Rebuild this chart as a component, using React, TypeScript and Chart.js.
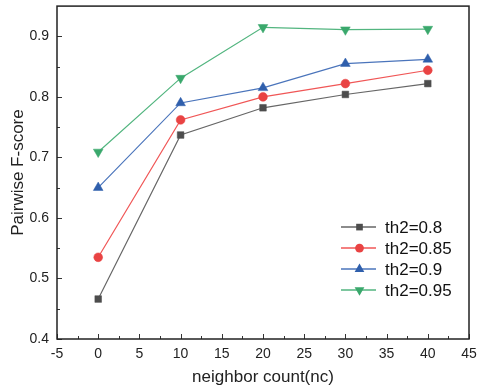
import React, { useEffect, useRef } from "react";
import { Chart, registerables } from "chart.js";

Chart.register(...registerables);

const xValues = [0, 10, 20, 30, 40];
const th08 = [0.466, 0.737, 0.782, 0.804, 0.822];
const th085 = [0.535, 0.762, 0.8, 0.822, 0.844];
const th09 = [0.65, 0.79, 0.815, 0.855, 0.862];
const th095 = [0.709, 0.831, 0.915, 0.911, 0.912];
const seriesNames = ["th2=0.8", "th2=0.85", "th2=0.9", "th2=0.95"];
const xTicks = [-5, 0, 5, 10, 15, 20, 25, 30, 35, 40, 45];
const xMinorTicks = [-2.5, 2.5, 7.5, 12.5, 17.5, 22.5, 27.5, 32.5, 37.5, 42.5];
const yTicks = [0.4, 0.5, 0.6, 0.7, 0.8, 0.9];
const yMinorTicks = [0.45, 0.55, 0.65, 0.75, 0.85];

const colors = ["#4d4d4d", "#e94343", "#2f5fac", "#3aa86c"];
const lineColors = ["#666666", "#f05656", "#4a74bb", "#52b57f"];
const styles = ["rect", "circle", "triangle", "triangle"];
const rotations = [0, 0, 0, 180];
const radii = [4.7, 4.4, 5.6, 5.6];

const FONT = "'Liberation Sans', Arial, sans-serif";

function drawMarker(ctx: CanvasRenderingContext2D, style: string, r: number, rot: number, x: number, y: number) {
  ctx.beginPath();
  if (style === "rect") {
    const s = Math.SQRT1_2 * r;
    ctx.rect(x - s, y - s, 2 * s, 2 * s);
  } else if (style === "circle") {
    ctx.arc(x, y, r, 0, Math.PI * 2);
  } else {
    const a0 = (rot * Math.PI) / 180;
    for (let k = 0; k < 3; k++) {
      const a = a0 - Math.PI / 2 + (k * 2 * Math.PI) / 3;
      const px = x + Math.cos(a) * r;
      const py = y + Math.sin(a) * r;
      if (k === 0) ctx.moveTo(px, py);
      else ctx.lineTo(px, py);
    }
    ctx.closePath();
  }
  ctx.fill();
}

export default function App() {
  const ref = useRef<HTMLCanvasElement>(null);
  useEffect(() => {
    if (!ref.current) return;
    const all = [th08, th085, th09, th095];
    const datasets = all.map((vals, i) => ({
      label: seriesNames[i],
      data: vals.map((v, j) => ({ x: xValues[j], y: v })),
      borderColor: lineColors[i],
      backgroundColor: colors[i],
      borderWidth: 1.2,
      pointStyle: styles[i],
      pointRotation: rotations[i],
      pointRadius: radii[i],
      pointBackgroundColor: colors[i],
      pointBorderColor: colors[i],
      pointBorderWidth: 0.5,
      tension: 0,
    }));

    const ticksPlugin = {
      id: "inwardTicks",
      afterDraw(chart: any) {
        const ctx = chart.ctx;
        const { left, right, top, bottom } = chart.chartArea;
        const xs = chart.scales.x;
        const ys = chart.scales.y;
        ctx.save();
        ctx.strokeStyle = "#333";
        ctx.lineWidth = 1;
        ctx.beginPath();
        xTicks.forEach((v) => {
          const px = Math.round(xs.getPixelForValue(v)) + 0.5;
          ctx.moveTo(px, bottom);
          ctx.lineTo(px, bottom - 5);
        });
        xMinorTicks.forEach((v) => {
          const px = Math.round(xs.getPixelForValue(v)) + 0.5;
          ctx.moveTo(px, bottom);
          ctx.lineTo(px, bottom - 3);
        });
        yTicks.forEach((v) => {
          const py = Math.round(ys.getPixelForValue(v)) + 0.5;
          ctx.moveTo(left, py);
          ctx.lineTo(left + 5, py);
        });
        yMinorTicks.forEach((v) => {
          const py = Math.round(ys.getPixelForValue(v)) + 0.5;
          ctx.moveTo(left, py);
          ctx.lineTo(left + 3, py);
        });
        ctx.stroke();
        ctx.strokeStyle = "#222";
        ctx.lineWidth = 1.5;
        ctx.strokeRect(left, top, right - left, bottom - top);
        ctx.restore();

        // legend
        ctx.save();
        const lx = right - 128;
        const ly0 = top + 221;
        chart.data.datasets.forEach((ds: any, i: number) => {
          const y = ly0 + i * 21;
          ctx.strokeStyle = ds.borderColor;
          ctx.lineWidth = 1.5;
          ctx.beginPath();
          ctx.moveTo(lx, y);
          ctx.lineTo(lx + 35, y);
          ctx.stroke();
          ctx.fillStyle = ds.pointBackgroundColor;
          drawMarker(ctx, ds.pointStyle, ds.pointRadius, ds.pointRotation, lx + 18.5, y);
          ctx.fillStyle = "#111";
          ctx.font = `17px ${FONT}`;
          ctx.textBaseline = "middle";
          ctx.textAlign = "left";
          ctx.fillText(ds.label, lx + 44, y + 1);
        });
        ctx.restore();
      },
    };

    const chart = new Chart(ref.current, {
      type: "line",
      data: { datasets },
      plugins: [ticksPlugin],
      options: {
        responsive: false,
        animation: false,
        layout: { padding: { left: 0, top: 6, right: 10, bottom: 0 } },
        plugins: { legend: { display: false }, tooltip: { enabled: false } },
        scales: {
          x: {
            type: "linear",
            min: -5,
            max: 45,
            afterBuildTicks: (s: any) => {
              s.ticks = xTicks.map((v) => ({ value: v }));
            },
            afterFit: (s: any) => {
              s.height = 50;
              s.paddingLeft = 0;
              s.paddingRight = 0;
            },
            grid: { display: false, drawTicks: false },
            border: { display: false },
            ticks: {
              padding: 7,
              color: "#222",
              font: { family: FONT, size: 14 },
              maxRotation: 0,
              callback: (v: any) => String(v),
            },
            title: {
              display: true,
              text: "neighbor count(nc)",
              color: "#222",
              font: { family: FONT, size: 17 },
              padding: { top: 0, bottom: 1 },
            },
          },
          y: {
            type: "linear",
            min: 0.4,
            max: 0.95,
            afterBuildTicks: (s: any) => {
              s.ticks = yTicks.map((v) => ({ value: v }));
            },
            afterFit: (s: any) => {
              s.width = 57;
              s.paddingTop = 0;
              s.paddingBottom = 0;
            },
            grid: { display: false, drawTicks: false },
            border: { display: false },
            ticks: {
              padding: 8,
              color: "#222",
              font: { family: FONT, size: 14 },
              callback: (v: any) => Number(v).toFixed(1),
            },
            title: {
              display: true,
              text: "Pairwise F-score",
              color: "#222",
              font: { family: FONT, size: 17 },
              padding: { top: 8, bottom: 0 },
            },
          },
        },
      },
    });
    return () => chart.destroy();
  }, []);

  return (
    <div style={{ position: "fixed", left: 0, top: 0, width: 479, height: 389, background: "#fff" }}>
      <canvas ref={ref} width={479} height={389} />
    </div>
  );
}
